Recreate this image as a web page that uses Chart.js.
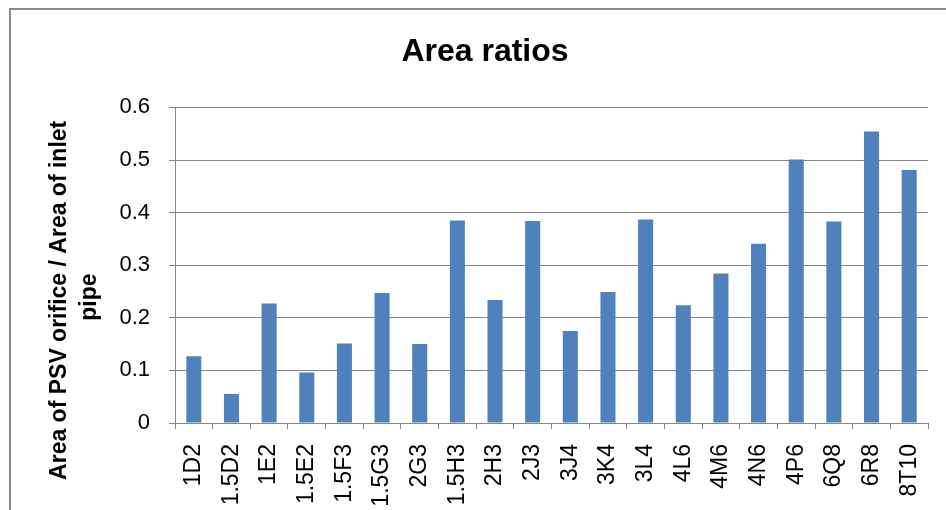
<!DOCTYPE html>
<html>
<head>
<meta charset="utf-8">
<script src="https://cdn.jsdelivr.net/npm/chart.js@4"></script>
<style>
    html, body { margin: 0; padding: 0; background: #fff; overflow: hidden; width: 946px; height: 510px; }
    #frame { position: absolute; left: 9px; top: 8px; width: 1000px; height: 600px; border: 2px solid #898989; box-sizing: border-box; }
    #myChart { position: absolute; left: 0; top: 0; }
</style>
</head>
<body>
<div id="frame"></div>
<canvas id="myChart" width="970" height="530"></canvas>
<script>
// valve sizes along the x axis
var categories = ['1D2', '1.5D2', '1E2', '1.5E2', '1.5F3', '1.5G3', '2G3', '1.5H3', '2H3', '2J3',
    '3J4', '3K4', '3L4', '4L6', '4M6', '4N6', '4P6', '6Q8', '6R8', '8T10'];
// area of PSV orifice / area of inlet pipe
var areaRatios = [0.127, 0.055, 0.227, 0.096, 0.151, 0.247, 0.150, 0.385, 0.234, 0.384,
    0.175, 0.249, 0.387, 0.224, 0.284, 0.341, 0.501, 0.383, 0.554, 0.481];
var yTickLabels = ['0', '0.1', '0.2', '0.3', '0.4', '0.5', '0.6'];

var font = "'Liberation Sans', Arial, sans-serif";
var gray = '#878787';

var ctx = document.getElementById('myChart').getContext('2d');
var myChart = new Chart(ctx, {
    type: 'bar',
    data: {
        labels: categories,
        datasets: [{
            label: 'Area ratio',
            data: areaRatios,
            backgroundColor: '#4F81BD',
            borderWidth: 0,
            barPercentage: 0.4,
            categoryPercentage: 1
        }]
    },
    options: {
        responsive: false,
        animation: false,
        // equal side padding so the title sits centred on the whole frame
        layout: { padding: { left: 42, right: 42, top: 0, bottom: 0 } },
        plugins: {
            legend: { display: false },
            tooltip: { enabled: false },
            title: {
                display: true,
                text: 'Area ratios',
                color: '#000',
                font: { family: font, size: 32, weight: 'bold', lineHeight: 1.2 },
                padding: { top: 33, bottom: 36 }
            }
        },
        scales: {
            x: {
                grid: { display: true, drawOnChartArea: false, drawTicks: true, tickLength: 6, color: gray, lineWidth: 1 },
                border: { display: true, color: gray, width: 1 },
                ticks: {
                    color: '#000',
                    font: { family: font, size: 23 },
                    minRotation: 90,
                    maxRotation: 90,
                    autoSkip: false,
                    padding: 15
                },
                afterFit: function(scale) { scale.height = 107; }
            },
            y: {
                min: 0,
                max: 0.6,
                grid: { color: gray, lineWidth: 1, tickLength: 6 },
                border: { display: true, color: gray, width: 1 },
                ticks: {
                    stepSize: 0.1,
                    color: '#000',
                    font: { family: font, size: 22 },
                    padding: 19,
                    callback: function(value, index) {
                        return yTickLabels[index];
                    }
                },
                title: {
                    display: true,
                    // trailing spaces push the text a bit down, like the original
                    text: ['Area of PSV orifice / Area of inlet' + '           ', 'pipe' + '          '],
                    color: '#000',
                    font: { family: font, size: 23, weight: 'bold', lineHeight: 1.3 },
                    padding: { top: 3, bottom: 0 }
                },
                afterFit: function(scale) { scale.width = 133; }
            }
        }
    }
});
</script>
</body>
</html>
